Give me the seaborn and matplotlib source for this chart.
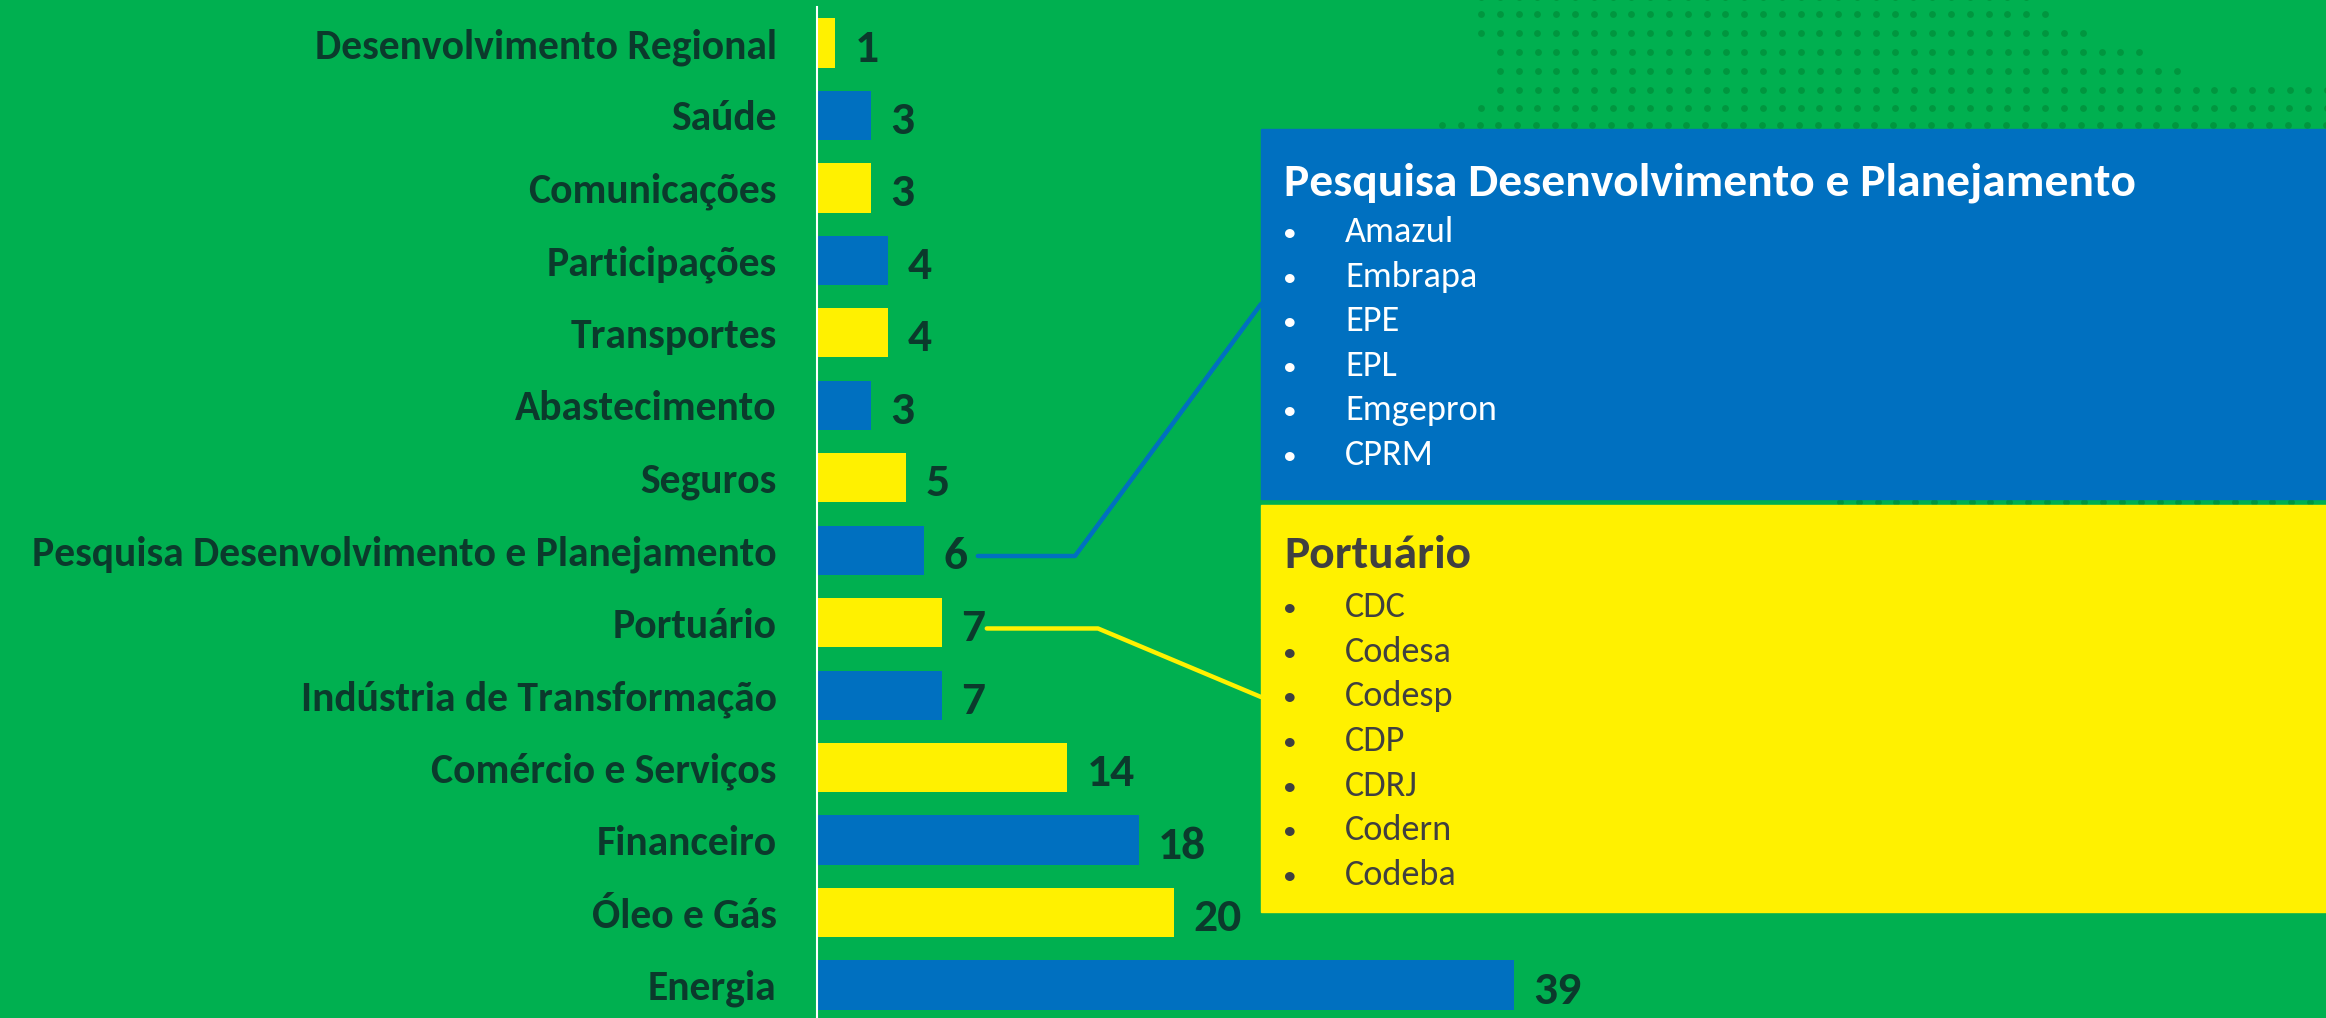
import numpy as np
import pandas as pd
import matplotlib
matplotlib.use('Agg')
import matplotlib.pyplot as plt
from matplotlib import font_manager as fm
from matplotlib.patches import Rectangle
import seaborn as sns

# data
categories = ['Desenvolvimento Regional', 'Saúde', 'Comunicações', 'Participações',
              'Transportes', 'Abastecimento', 'Seguros',
              'Pesquisa Desenvolvimento e Planejamento', 'Portuário',
              'Indústria de Transformação', 'Comércio e Serviços', 'Financeiro',
              'Óleo e Gás', 'Energia']
values = [1, 3, 3, 4, 4, 3, 5, 6, 7, 7, 14, 18, 20, 39]
pesquisa_title = 'Pesquisa Desenvolvimento e Planejamento'
pesquisa_items = ['Amazul', 'Embrapa', 'EPE', 'EPL', 'Emgepron', 'CPRM']
portuario_title = 'Portuário'
portuario_items = ['CDC', 'Codesa', 'Codesp', 'CDP', 'CDRJ', 'Codern', 'Codeba']

GREEN = '#00B050'
BLUE = '#0070C0'
YELLOW = '#FFF100'
DARK = '#0B3A2C'
GREY = '#404040'
DOT = '#00963F'

sns.set_theme(style='white')

# pick a narrow-ish font if one is there
names = {f.name for f in fm.fontManager.ttflist}
FONT = 'DejaVu Sans'
for cand in ['Carlito', 'Liberation Sans Narrow', 'Roboto Condensed', 'Open Sans Condensed',
             'Liberation Sans', 'Open Sans']:
    if cand in names:
        FONT = cand
        break
plt.rcParams['font.family'] = [FONT, 'DejaVu Sans']

W, H = 2326, 1018
fig = plt.figure(figsize=(W / 100, H / 100), dpi=100, facecolor=GREEN)

# fit label size so the longest label is about 767 px wide
renderer = fig.canvas.get_renderer()
probe = fig.text(0, 0, pesquisa_title, fontsize=20, fontweight='bold')
w20 = probe.get_window_extent(renderer=renderer).width
probe.remove()
lab_size = min(20 * 767 / w20, 30)
val_size = lab_size * 1.14
title_size = lab_size * 1.14
item_size = lab_size * 0.87

# background layer in pixel coords: dots, boxes
bg = fig.add_axes([0, 0, 1, 1], zorder=0)
bg.set_xlim(0, W)
bg.set_ylim(H, 0)
bg.axis('off')

dot_rows = [(-3, 1481, 2030), (14, 1481, 2050), (33, 1481, 2085), (52, 1500, 2147),
            (71, 1500, 2182), (90, 1500, 2330), (108, 1481, 2330), (125, 1442, 2330),
            (502, 1840, 2330)]
for y, x0, x1 in dot_rows:
    xs = np.arange(x0, x1, 18.8)
    bg.scatter(xs, np.full(len(xs), y), s=24, color=DOT, linewidths=0, zorder=1)

BOX_X = 1261
bg.add_patch(Rectangle((BOX_X, 129), W - BOX_X, 370, color=BLUE, zorder=2))
bg.add_patch(Rectangle((BOX_X, 505), W - BOX_X, 407, color=YELLOW, zorder=2))

bg.text(1284, 195, pesquisa_title, color='white', fontsize=title_size,
        fontweight='bold', va='baseline', zorder=3)
for k, item in enumerate(pesquisa_items):
    yb = 242 + k * 44.6
    bg.text(1290, yb - 1, '•', color='white', fontsize=item_size * 0.75, ha='center', va='baseline', zorder=3)
    bg.text(1345, yb, item, color='white', fontsize=item_size, va='baseline', zorder=3)

bg.text(1284, 568, portuario_title, color=GREY, fontsize=title_size,
        fontweight='bold', va='baseline', zorder=3)
for k, item in enumerate(portuario_items):
    yb = 617 + k * 44.7
    bg.text(1290, yb - 1, '•', color=GREY, fontsize=item_size * 0.75, ha='center', va='baseline', zorder=3)
    bg.text(1345, yb, item, color=GREY, fontsize=item_size, va='baseline', zorder=3)

# bar chart
AX_X = 817
PPU = 17.87          # px per unit
Y0, PITCH = 43, 72.46
ax = fig.add_axes([AX_X / W, 0, (W - AX_X) / W, 1], zorder=2)
ax.set_facecolor('none')

df = pd.DataFrame({'cat': categories, 'val': values})
colors = {c: (YELLOW if i % 2 == 0 else BLUE) for i, c in enumerate(categories)}
sns.barplot(data=df, x='val', y='cat', hue='cat', palette=colors, orient='h',
            width=0.68, saturation=1, legend=False, linewidth=0, ax=ax)

ax.set_xlim(0, (W - AX_X) / PPU)
ax.set_ylim((H - Y0) / PITCH, -Y0 / PITCH)
ax.set_xlabel('')
ax.set_ylabel('')
ax.set_xticks([])
ax.tick_params(axis='y', length=0, pad=29)
for lab in ax.get_yticklabels():
    lab.set_fontsize(lab_size)
    lab.set_fontweight('bold')
    lab.set_color(DARK)
for s in ['top', 'right', 'bottom']:
    ax.spines[s].set_visible(False)
ax.spines['left'].set_color('white')
ax.spines['left'].set_linewidth(1.5)
ax.spines['left'].set_bounds((H - Y0) / PITCH, (7 - Y0) / PITCH)

for i, v in enumerate(values):
    ax.annotate(str(v), (v, i), xytext=(14, -4), textcoords='offset points',
                va='center', ha='left', fontsize=val_size, fontweight='bold', color=DARK)


def px2data(px, py):
    return (px - AX_X) / PPU, (py - Y0) / PITCH


# leader lines from the two highlighted bars to their boxes
i_p = categories.index(pesquisa_title)
i_t = categories.index(portuario_title)
ex, ey = px2data(1075, 0)
bx, by = px2data(BOX_X, 304)
ax.plot([values[i_p] + 3.0, ex, bx], [i_p + 0.08, i_p + 0.08, by],
        color=BLUE, lw=3.2, clip_on=False, zorder=5)
ex, ey = px2data(1098, 0)
bx, by = px2data(BOX_X, 697)
ax.plot([values[i_t] + 2.5, ex, bx], [i_t + 0.08, i_t + 0.08, by],
        color=YELLOW, lw=3.2, clip_on=False, zorder=5)

fig.savefig('out.png', dpi=100, facecolor=GREEN)
